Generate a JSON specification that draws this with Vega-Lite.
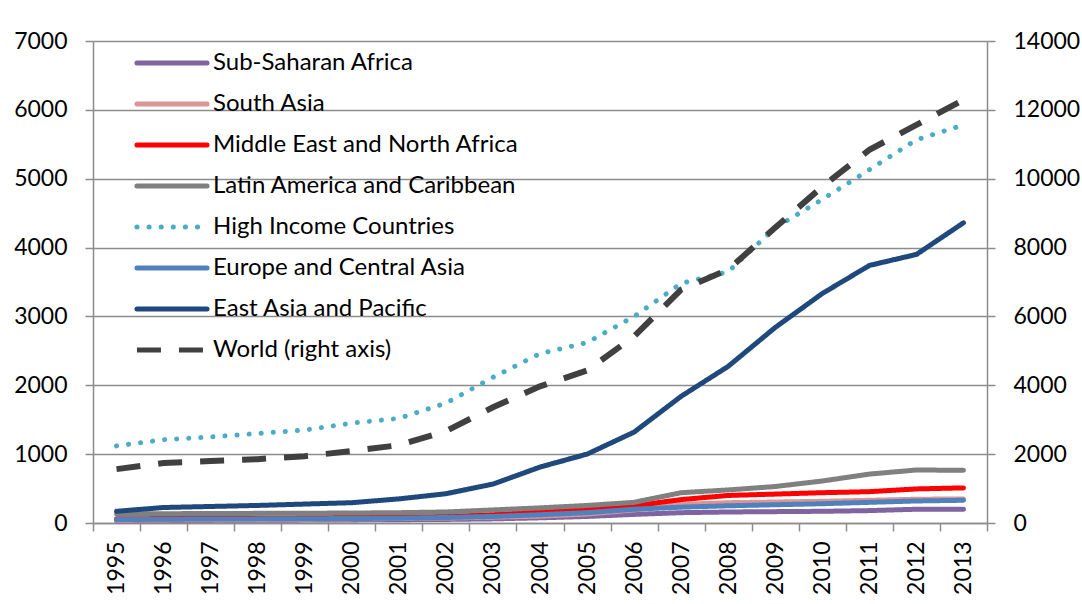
{
  "$schema": "https://vega.github.io/schema/vega-lite/v6.json",
  "autosize": "none",
  "width": 894,
  "height": 482,
  "padding": {"left": 93, "top": 41, "right": 95, "bottom": 81},
  "background": "white",
  "config": {
    "font": "Lato",
    "view": {"stroke": null},
    "axis": {"labelFont": "Lato", "labelFontSize": 23, "labelColor": "#000000", "domainColor": "#8c8c8c", "tickColor": "#8c8c8c", "gridColor": "#8c8c8c", "domainWidth": 1.5, "tickWidth": 1.5, "gridWidth": 1.5, "tickSize": 8, "title": null}
  },
  "data": {"values": [
    {"year": 1995, "series": "Sub-Saharan Africa", "value": 30},
    {"year": 1996, "series": "Sub-Saharan Africa", "value": 35},
    {"year": 1997, "series": "Sub-Saharan Africa", "value": 38},
    {"year": 1998, "series": "Sub-Saharan Africa", "value": 40},
    {"year": 1999, "series": "Sub-Saharan Africa", "value": 42},
    {"year": 2000, "series": "Sub-Saharan Africa", "value": 45},
    {"year": 2001, "series": "Sub-Saharan Africa", "value": 48},
    {"year": 2002, "series": "Sub-Saharan Africa", "value": 52},
    {"year": 2003, "series": "Sub-Saharan Africa", "value": 60},
    {"year": 2004, "series": "Sub-Saharan Africa", "value": 75},
    {"year": 2005, "series": "Sub-Saharan Africa", "value": 95},
    {"year": 2006, "series": "Sub-Saharan Africa", "value": 125},
    {"year": 2007, "series": "Sub-Saharan Africa", "value": 150},
    {"year": 2008, "series": "Sub-Saharan Africa", "value": 160},
    {"year": 2009, "series": "Sub-Saharan Africa", "value": 165},
    {"year": 2010, "series": "Sub-Saharan Africa", "value": 170},
    {"year": 2011, "series": "Sub-Saharan Africa", "value": 180},
    {"year": 2012, "series": "Sub-Saharan Africa", "value": 200},
    {"year": 2013, "series": "Sub-Saharan Africa", "value": 200},
    {"year": 1995, "series": "South Asia", "value": 40},
    {"year": 1996, "series": "South Asia", "value": 45},
    {"year": 1997, "series": "South Asia", "value": 48},
    {"year": 1998, "series": "South Asia", "value": 52},
    {"year": 1999, "series": "South Asia", "value": 55},
    {"year": 2000, "series": "South Asia", "value": 60},
    {"year": 2001, "series": "South Asia", "value": 65},
    {"year": 2002, "series": "South Asia", "value": 72},
    {"year": 2003, "series": "South Asia", "value": 85},
    {"year": 2004, "series": "South Asia", "value": 100},
    {"year": 2005, "series": "South Asia", "value": 130},
    {"year": 2006, "series": "South Asia", "value": 190},
    {"year": 2007, "series": "South Asia", "value": 270},
    {"year": 2008, "series": "South Asia", "value": 295},
    {"year": 2009, "series": "South Asia", "value": 305},
    {"year": 2010, "series": "South Asia", "value": 315},
    {"year": 2011, "series": "South Asia", "value": 330},
    {"year": 2012, "series": "South Asia", "value": 345},
    {"year": 2013, "series": "South Asia", "value": 350},
    {"year": 1995, "series": "Middle East and North Africa", "value": 60},
    {"year": 1996, "series": "Middle East and North Africa", "value": 65},
    {"year": 1997, "series": "Middle East and North Africa", "value": 70},
    {"year": 1998, "series": "Middle East and North Africa", "value": 72},
    {"year": 1999, "series": "Middle East and North Africa", "value": 75},
    {"year": 2000, "series": "Middle East and North Africa", "value": 80},
    {"year": 2001, "series": "Middle East and North Africa", "value": 85},
    {"year": 2002, "series": "Middle East and North Africa", "value": 95},
    {"year": 2003, "series": "Middle East and North Africa", "value": 120},
    {"year": 2004, "series": "Middle East and North Africa", "value": 160},
    {"year": 2005, "series": "Middle East and North Africa", "value": 210},
    {"year": 2006, "series": "Middle East and North Africa", "value": 250},
    {"year": 2007, "series": "Middle East and North Africa", "value": 340},
    {"year": 2008, "series": "Middle East and North Africa", "value": 400},
    {"year": 2009, "series": "Middle East and North Africa", "value": 420},
    {"year": 2010, "series": "Middle East and North Africa", "value": 440},
    {"year": 2011, "series": "Middle East and North Africa", "value": 455},
    {"year": 2012, "series": "Middle East and North Africa", "value": 495},
    {"year": 2013, "series": "Middle East and North Africa", "value": 510},
    {"year": 1995, "series": "Latin America and Caribbean", "value": 130},
    {"year": 1996, "series": "Latin America and Caribbean", "value": 135},
    {"year": 1997, "series": "Latin America and Caribbean", "value": 138},
    {"year": 1998, "series": "Latin America and Caribbean", "value": 140},
    {"year": 1999, "series": "Latin America and Caribbean", "value": 142},
    {"year": 2000, "series": "Latin America and Caribbean", "value": 145},
    {"year": 2001, "series": "Latin America and Caribbean", "value": 150},
    {"year": 2002, "series": "Latin America and Caribbean", "value": 160},
    {"year": 2003, "series": "Latin America and Caribbean", "value": 190},
    {"year": 2004, "series": "Latin America and Caribbean", "value": 220},
    {"year": 2005, "series": "Latin America and Caribbean", "value": 255},
    {"year": 2006, "series": "Latin America and Caribbean", "value": 300},
    {"year": 2007, "series": "Latin America and Caribbean", "value": 440},
    {"year": 2008, "series": "Latin America and Caribbean", "value": 480},
    {"year": 2009, "series": "Latin America and Caribbean", "value": 530},
    {"year": 2010, "series": "Latin America and Caribbean", "value": 610},
    {"year": 2011, "series": "Latin America and Caribbean", "value": 710},
    {"year": 2012, "series": "Latin America and Caribbean", "value": 770},
    {"year": 2013, "series": "Latin America and Caribbean", "value": 765},
    {"year": 1995, "series": "High Income Countries", "value": 1120},
    {"year": 1996, "series": "High Income Countries", "value": 1210},
    {"year": 1997, "series": "High Income Countries", "value": 1250},
    {"year": 1998, "series": "High Income Countries", "value": 1300},
    {"year": 1999, "series": "High Income Countries", "value": 1350},
    {"year": 2000, "series": "High Income Countries", "value": 1450},
    {"year": 2001, "series": "High Income Countries", "value": 1520},
    {"year": 2002, "series": "High Income Countries", "value": 1740},
    {"year": 2003, "series": "High Income Countries", "value": 2115},
    {"year": 2004, "series": "High Income Countries", "value": 2460},
    {"year": 2005, "series": "High Income Countries", "value": 2620},
    {"year": 2006, "series": "High Income Countries", "value": 3000},
    {"year": 2007, "series": "High Income Countries", "value": 3480},
    {"year": 2008, "series": "High Income Countries", "value": 3650},
    {"year": 2009, "series": "High Income Countries", "value": 4290},
    {"year": 2010, "series": "High Income Countries", "value": 4700},
    {"year": 2011, "series": "High Income Countries", "value": 5130},
    {"year": 2012, "series": "High Income Countries", "value": 5565},
    {"year": 2013, "series": "High Income Countries", "value": 5780},
    {"year": 1995, "series": "Europe and Central Asia", "value": 50},
    {"year": 1996, "series": "Europe and Central Asia", "value": 55},
    {"year": 1997, "series": "Europe and Central Asia", "value": 58},
    {"year": 1998, "series": "Europe and Central Asia", "value": 60},
    {"year": 1999, "series": "Europe and Central Asia", "value": 62},
    {"year": 2000, "series": "Europe and Central Asia", "value": 65},
    {"year": 2001, "series": "Europe and Central Asia", "value": 70},
    {"year": 2002, "series": "Europe and Central Asia", "value": 80},
    {"year": 2003, "series": "Europe and Central Asia", "value": 95},
    {"year": 2004, "series": "Europe and Central Asia", "value": 120},
    {"year": 2005, "series": "Europe and Central Asia", "value": 150},
    {"year": 2006, "series": "Europe and Central Asia", "value": 200},
    {"year": 2007, "series": "Europe and Central Asia", "value": 230},
    {"year": 2008, "series": "Europe and Central Asia", "value": 250},
    {"year": 2009, "series": "Europe and Central Asia", "value": 265},
    {"year": 2010, "series": "Europe and Central Asia", "value": 280},
    {"year": 2011, "series": "Europe and Central Asia", "value": 300},
    {"year": 2012, "series": "Europe and Central Asia", "value": 320},
    {"year": 2013, "series": "Europe and Central Asia", "value": 330},
    {"year": 1995, "series": "East Asia and Pacific", "value": 170},
    {"year": 1996, "series": "East Asia and Pacific", "value": 225},
    {"year": 1997, "series": "East Asia and Pacific", "value": 240},
    {"year": 1998, "series": "East Asia and Pacific", "value": 255},
    {"year": 1999, "series": "East Asia and Pacific", "value": 275},
    {"year": 2000, "series": "East Asia and Pacific", "value": 295},
    {"year": 2001, "series": "East Asia and Pacific", "value": 350},
    {"year": 2002, "series": "East Asia and Pacific", "value": 425},
    {"year": 2003, "series": "East Asia and Pacific", "value": 565},
    {"year": 2004, "series": "East Asia and Pacific", "value": 812},
    {"year": 2005, "series": "East Asia and Pacific", "value": 1000},
    {"year": 2006, "series": "East Asia and Pacific", "value": 1320},
    {"year": 2007, "series": "East Asia and Pacific", "value": 1840},
    {"year": 2008, "series": "East Asia and Pacific", "value": 2275},
    {"year": 2009, "series": "East Asia and Pacific", "value": 2840},
    {"year": 2010, "series": "East Asia and Pacific", "value": 3333},
    {"year": 2011, "series": "East Asia and Pacific", "value": 3740},
    {"year": 2012, "series": "East Asia and Pacific", "value": 3900},
    {"year": 2013, "series": "East Asia and Pacific", "value": 4360},
    {"year": 1995, "series": "World (right axis)", "value": 1565},
    {"year": 1996, "series": "World (right axis)", "value": 1740},
    {"year": 1997, "series": "World (right axis)", "value": 1800},
    {"year": 1998, "series": "World (right axis)", "value": 1855},
    {"year": 1999, "series": "World (right axis)", "value": 1940},
    {"year": 2000, "series": "World (right axis)", "value": 2090},
    {"year": 2001, "series": "World (right axis)", "value": 2260},
    {"year": 2002, "series": "World (right axis)", "value": 2670},
    {"year": 2003, "series": "World (right axis)", "value": 3360},
    {"year": 2004, "series": "World (right axis)", "value": 3970},
    {"year": 2005, "series": "World (right axis)", "value": 4430},
    {"year": 2006, "series": "World (right axis)", "value": 5420},
    {"year": 2007, "series": "World (right axis)", "value": 6780},
    {"year": 2008, "series": "World (right axis)", "value": 7360},
    {"year": 2009, "series": "World (right axis)", "value": 8580},
    {"year": 2010, "series": "World (right axis)", "value": 9770},
    {"year": 2011, "series": "World (right axis)", "value": 10840},
    {"year": 2012, "series": "World (right axis)", "value": 11565},
    {"year": 2013, "series": "World (right axis)", "value": 12290}
  ]},
  "encoding": {
    "x": {
      "field": "year", "type": "ordinal", "bandPosition": 0.5,
      "scale": {"type": "band", "paddingInner": 0, "paddingOuter": 0},
      "axis": {"labelAngle": -90, "tickBand": "extent", "labelPadding": 10, "grid": false}
    },
    "color": {
      "field": "series", "type": "nominal",
      "scale": {
        "domain": ["Sub-Saharan Africa", "South Asia", "Middle East and North Africa", "Latin America and Caribbean", "High Income Countries", "Europe and Central Asia", "East Asia and Pacific", "World (right axis)"],
        "range": ["#8064A2", "#D99694", "#FF0000", "#808080", "#4BACC6", "#4F81BD", "#1F497D", "#404040"]
      },
      "legend": {
        "title": null, "orient": "none", "legendX": 50, "legendY": -7,
        "symbolType": "M-1.34,0H1.34", "symbolSize": 2738, "symbolStrokeWidth": 5,
        "labelFont": "Lato", "labelFontSize": 24, "labelColor": "#000000", "labelOffset": 12,
        "rowPadding": 0, "labelLimit": 400,
        "encode": {"symbols": {"update": {"strokeCap": {"signal": "datum.value === 'World (right axis)' ? 'butt' : 'round'"}}}}
      }
    },
    "strokeDash": {
      "field": "series", "type": "nominal",
      "scale": {
        "domain": ["Sub-Saharan Africa", "South Asia", "Middle East and North Africa", "Latin America and Caribbean", "High Income Countries", "Europe and Central Asia", "East Asia and Pacific", "World (right axis)"],
        "range": [[1, 0], [1, 0], [1, 0], [1, 0], [0.1, 12], [1, 0], [1, 0], [24, 18]]
      },
      "legend": null
    }
  },
  "layer": [
    {
      "transform": [{"filter": "datum.series !== 'World (right axis)'"}],
      "mark": {"type": "line", "strokeWidth": 5, "strokeCap": "round", "strokeJoin": "round"},
      "encoding": {
        "y": {
          "field": "value", "type": "quantitative",
          "scale": {"domain": [0, 7000], "nice": false},
          "axis": {"orient": "left", "values": [0, 1000, 2000, 3000, 4000, 5000, 6000, 7000], "grid": true, "labelPadding": 18, "format": "d"}
        }
      }
    },
    {
      "transform": [{"filter": "datum.series === 'World (right axis)'"}],
      "mark": {"type": "line", "strokeWidth": 6, "strokeCap": "butt", "strokeJoin": "miter"},
      "encoding": {
        "y": {
          "field": "value", "type": "quantitative",
          "scale": {"domain": [0, 14000], "nice": false},
          "axis": {"orient": "right", "values": [0, 2000, 4000, 6000, 8000, 10000, 12000, 14000], "grid": false, "labelPadding": 18, "format": "d"}
        }
      }
    }
  ],
  "resolve": {"scale": {"y": "independent"}}
}
